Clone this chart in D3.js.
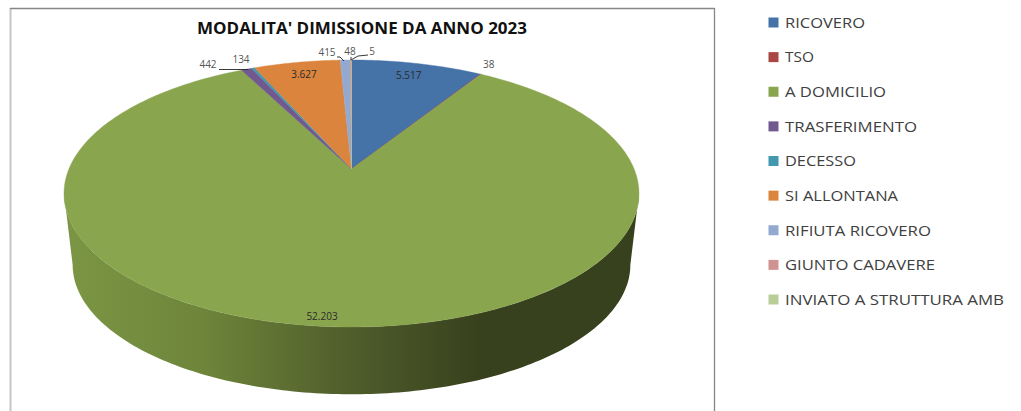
<!DOCTYPE html>
<html>
<head>
<meta charset="utf-8">
<title>Modalita' dimissione</title>
<style>
html, body { margin: 0; padding: 0; background: #fff; }
svg { display: block; }
text { font-family: "Open Sans", sans-serif; }
</style>
</head>
<body>
<script src="https://cdn.jsdelivr.net/npm/d3@7"></script>
<script>
var titleText = "MODALITA' DIMISSIONE DA ANNO 2023";
var categories = ["RICOVERO", "TSO", "A DOMICILIO", "TRASFERIMENTO", "DECESSO", "SI ALLONTANA", "RIFIUTA RICOVERO", "GIUNTO CADAVERE", "INVIATO A STRUTTURA AMB"];
var values = [5517, 38, 52203, 442, 134, 3627, 415, 48, 5];
var valueLabels = ["5.517", "38", "52.203", "442", "134", "3.627", "415", "48", "5"];
var colors = ["#4572a7", "#aa4643", "#89a54e", "#71588f", "#4198af", "#db843d", "#93a9cf", "#d19392", "#b9cd96"];

var width = 1021, height = 411;

// perspective of the pie: top face and base
var cx = 351.5, apexY = 169, baseY = 241;
var persp = 0.1835, radX = 282.6, radY = 129, baseScale = 0.97;

function project(a, scale, y0) {
	var u = Math.sin(a), v = -Math.cos(a), d = 1 - persp * v;
	return [cx + scale * radX * u / d, y0 + scale * radY * v / d];
}
function topPt(a) { return project(a, 1, apexY); }
function basePt(a) { return project(a, baseScale, baseY); }

function arcPts(a0, a1, f) {
	return d3.range(0, 1.0001, 1 / Math.max(2, Math.ceil(Math.abs(a1 - a0) * 60))).map(function (t) {
		return f(a0 + (a1 - a0) * t);
	});
}

var line = d3.line();

var svg = d3.select("body").append("svg")
	.attr("width", width)
	.attr("height", height);

// frame
svg.append("rect").attr("width", width).attr("height", height).attr("fill", "#fff");
svg.append("line").attr("x1", 10.5).attr("x2", 10.5).attr("y1", 8).attr("y2", height)
	.attr("stroke", "#c6c6c6").attr("stroke-width", 2);
svg.append("line").attr("x1", 714.5).attr("x2", 714.5).attr("y1", 8).attr("y2", height)
	.attr("stroke", "#868686").attr("stroke-width", 1.3);
svg.append("line").attr("x1", 10).attr("x2", 715).attr("y1", 8.5).attr("y2", 8.5)
	.attr("stroke", "#868686").attr("stroke-width", 1.3);

// side wall gradient
var grad = svg.append("defs").append("linearGradient")
	.attr("id", "wall")
	.attr("gradientUnits", "userSpaceOnUse")
	.attr("x1", 64).attr("x2", 639).attr("y1", 0).attr("y2", 0);
[[0, "#7b9644"], [0.24, "#6e853a"], [0.5, "#4f5d2b"], [0.72, "#38411d"], [1, "#38411d"]].forEach(function (s) {
	grad.append("stop").attr("offset", s[0]).attr("stop-color", s[1]);
});

var pie = d3.pie().sort(null).value(function (d) { return d; });
var arcs = pie(values);

// wall is visible between the two widest points of the top face
var wallStart = Math.PI / 2 - Math.asin(-persp), wallEnd = 3 * Math.PI / 2 + Math.asin(-persp);
var green = arcs[2];
var a0 = Math.max(green.startAngle, wallStart), a1 = Math.min(green.endAngle, wallEnd);
var wallPts = arcPts(a0, a1, topPt).concat(arcPts(a1, a0, basePt));
svg.append("path")
	.attr("d", line(wallPts) + "Z")
	.attr("fill", "url(#wall)");

// top face
svg.selectAll("path.slice")
	.data(arcs)
	.enter()
	.append("path")
	.attr("class", "slice")
	.attr("d", function (d) {
		return line([[cx, apexY]].concat(arcPts(d.startAngle, d.endAngle, topPt))) + "Z";
	})
	.attr("fill", function (d, i) { return colors[i]; })
	.attr("stroke", function (d, i) { return colors[i]; })
	.attr("stroke-width", 0.4);

// label positions are angle based, leaders for the small slices
function outer(i, dx, dy) {
	var a = (arcs[i].startAngle + arcs[i].endAngle) / 2, p = topPt(a);
	return [p[0] + dx, p[1] + dy];
}
function inner(i, f, dy) {
	var a = (arcs[i].startAngle + arcs[i].endAngle) / 2, p = topPt(a);
	return [cx + (p[0] - cx) * f, apexY + (p[1] - apexY) * f + dy];
}
var labelPos = [
	inner(0, 0.87, -1),
	outer(1, 8, -9),
	[322, 317],
	[208, 65.5],
	[241, 60],
	inner(5, 0.87, -1),
	[327, 53],
	[350, 52],
	[372, 52]
];
svg.selectAll("text.val")
	.data(valueLabels)
	.enter()
	.append("text")
	.attr("class", "val")
	.attr("x", function (d, i) { return labelPos[i][0]; })
	.attr("y", function (d, i) { return labelPos[i][1]; })
	.attr("text-anchor", "middle")
	.attr("dominant-baseline", "middle")
	.attr("font-size", 10)
	.attr("fill", function (d, i) { return (i == 0 || i == 2 || i == 5) ? "#2b2b2b" : "#555"; })
	.text(function (d) { return d; });

// leader lines
var leaders = [
	[[219, 69.5], [outer(3, 0, 0)[0] + 2, 69.5]],
	[[337, 57], [340, 57], [344, 61]],
	[[351, 57], [351, 60]],
	[[368, 55], [358, 56], [351, 60]]
];
svg.selectAll("path.leader")
	.data(leaders)
	.enter()
	.append("path")
	.attr("class", "leader")
	.attr("d", function (d) { return line(d); })
	.attr("fill", "none")
	.attr("stroke", "#222")
	.attr("stroke-width", 0.9);

// title
svg.append("text")
	.attr("x", 362)
	.attr("y", 30)
	.attr("text-anchor", "middle")
	.attr("dominant-baseline", "middle")
	.attr("font-size", 16)
	.attr("font-weight", 700)
	.attr("fill", "#111")
	.attr("textLength", 330)
	.attr("lengthAdjust", "spacingAndGlyphs")
	.text(titleText);

// legend
var legendY = d3.scalePoint().domain(categories).range([23, 300]);
var legendW = [80, 29, 101, 132, 71, 113, 146, 150, 219];
var legend = svg.selectAll("g.legend")
	.data(categories)
	.enter()
	.append("g")
	.attr("class", "legend")
	.attr("transform", function (d) { return "translate(768.5," + legendY(d) + ")"; });
legend.append("rect")
	.attr("x", 0).attr("y", -5.5).attr("width", 10).attr("height", 10)
	.attr("fill", function (d, i) { return colors[i]; });
legend.append("text")
	.attr("x", 16.5)
	.attr("y", 1)
	.attr("dominant-baseline", "middle")
	.attr("font-size", 14)
	.attr("fill", "#404040")
	.attr("textLength", function (d, i) { return legendW[i]; })
	.attr("lengthAdjust", "spacingAndGlyphs")
	.text(function (d) { return d; });
</script>
</body>
</html>
